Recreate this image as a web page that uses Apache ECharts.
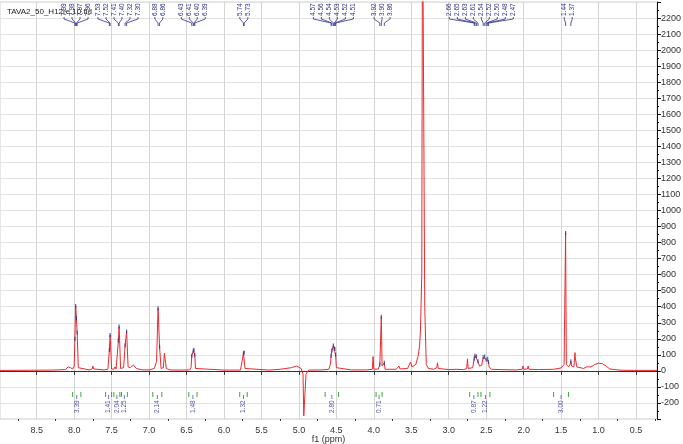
<!DOCTYPE html>
<html lang="en">
<head>
    <meta charset="UTF-8">
    <title>TAVA2 1H NMR</title>
    <script src="https://cdn.jsdelivr.net/npm/echarts@6.0.0/dist/echarts.min.js"></script>
    <style>
        html, body { margin: 0; padding: 0; background: #fff; }
    </style>
</head>
<body>
    <div id="main" style="width:683px;height:444px;"></div>
    <script>
        // picked peaks, grouped as in the label fans at the top
        var peakPpm = [
            [7.99, 7.98, 7.97, 7.96],
            [7.53, 7.52, 7.41, 7.40, 7.32, 7.30],
            [6.88, 6.86],
            [6.43, 6.41, 6.40, 6.39],
            [5.74, 5.73],
            [4.57, 4.56, 4.54, 4.53, 4.52, 4.51],
            [3.92, 3.90, 3.86],
            [2.66, 2.65, 2.63, 2.61, 2.54, 2.52, 2.50, 2.48, 2.47],
            [1.44, 1.37]
        ];
        var peakHeight = [
            [200, 405, 330, 240],
            [130, 224, 190, 276, 160, 245],
            [390, 150],
            [95, 125, 130, 100],
            [110, 114],
            [95, 127, 158, 140, 137, 100],
            [40, 338, 50],
            [75, 95, 90, 60, 85, 90, 70, 75, 55],
            [860, 60]
        ];
        // rest of the trace (baseline, unlabelled peaks, solvent)
        var tracePts = [
            [8.99, 3], [8.6, 4], [8.3, 5], [8.12, 8], [8.08, 25], [8.065, 31], [8.05, 20], [8.02, 12], [8.0, 30],
            [7.945, 20], [7.93, 8], [7.8, 6], [7.76, 12], [7.75, 30], [7.74, 12], [7.72, 7], [7.6, 6], [7.55, 10],
            [7.50, 12], [7.47, 10], [7.455, 25], [7.44, 12], [7.42, 20], [7.38, 15], [7.34, 20],
            [7.28, 25], [7.25, 20], [7.21, 37], [7.17, 15], [7.1, 7], [7.0, 6], [6.93, 15], [6.9, 60],
            [6.84, 15], [6.81, 20], [6.795, 110], [6.787, 114], [6.78, 100], [6.77, 15], [6.72, 6], [6.6, 5],
            [6.46, 6], [6.44, 20], [6.38, 15], [6.36, 6], [6.0, 5], [5.78, 5], [5.76, 15], [5.72, 15], [5.70, 5],
            [5.4, 5], [5.25, 10], [5.1, 20], [5.03, 30], [4.97, 15], [4.945, -20], [4.935, -280], [4.915, -280],
            [4.905, -20], [4.87, 5], [4.7, 6], [4.6, 10], [4.58, 40], [4.50, 20], [4.48, 8], [4.3, 6], [4.1, 6],
            [4.02, 10], [4.01, 89], [4.00, 10], [3.94, 12], [3.93, 25], [3.89, 30], [3.87, 20], [3.85, 10],
            [3.7, 10], [3.665, 30], [3.65, 12], [3.55, 15], [3.51, 55], [3.49, 25], [3.44, 40], [3.41, 90],
            [3.39, 150], [3.377, 255], [3.36, 600], [3.35, 3000], [3.335, 3000], [3.32, 400], [3.30, 40],
            [3.27, 15], [3.2, 10], [3.16, 20], [3.15, 50], [3.14, 15], [3.0, 8], [2.9, 10], [2.8, 8],
            [2.76, 15], [2.75, 75], [2.74, 15], [2.68, 20], [2.59, 30], [2.56, 35], [2.46, 25], [2.43, 10],
            [2.3, 8], [2.1, 6], [2.02, 10], [2.01, 30], [2.0, 10], [1.95, 12], [1.94, 30], [1.93, 10],
            [1.8, 8], [1.6, 10], [1.5, 18], [1.46, 40], [1.43, 40], [1.40, 25], [1.38, 40], [1.36, 30],
            [1.33, 25], [1.32, 80], [1.315, 114], [1.31, 80], [1.29, 25], [1.2, 15], [1.16, 25], [1.14, 15],
            [1.10, 25], [1.05, 40], [1.0, 48], [0.95, 45], [0.9, 30], [0.85, 12], [0.7, 4], [0.5, 3], [0.22, 3]
        ];
        // integrals: from ppm, to ppm, value
        var integrals = [
            [8.02, 7.91, 3.39], [7.58, 7.50, 1.41], [7.47, 7.39, 2.04], [7.37, 7.29, 1.25],
            [6.95, 6.83, 2.14], [6.47, 6.36, 1.48], [5.79, 5.69, 1.32], [4.65, 4.47, 2.80],
            [3.97, 3.89, 0.71], [2.72, 2.61, 0.87], [2.57, 2.45, 1.22], [1.60, 1.40, 3.00]
        ];
        var xMajor = [8.5, 8.0, 7.5, 7.0, 6.5, 6.0, 5.5, 5.0, 4.5, 4.0, 3.5, 3.0, 2.5, 2.0, 1.5, 1.0, 0.5];
        var xMinor = [8.75, 8.25, 7.75, 7.25, 6.75, 6.25, 5.75, 5.25, 4.75, 4.25, 3.75, 3.25, 2.75, 2.25, 1.75, 1.25, 0.75, 0.25];

        var peakPts = [];
        var labelItems = [];
        peakPpm.forEach(function (g, gi) {
            var mid = (g[0] + g[g.length - 1]) / 2;
            g.forEach(function (p, k) {
                peakPts.push([p, peakHeight[gi][k]]);
                labelItems.push([p, mid, k, g.length]);
            });
        });
        var spectrum = tracePts.concat(peakPts).sort(function (a, b) { return b[0] - a[0]; });

        var labelBlue = '#2f2f8f';
        var font = 'Liberation Sans';

        var myChart = echarts.init(document.getElementById('main'));
        var option = {
            animation: false,
            backgroundColor: '#ffffff',
            title: {
                text: 'TAVA2_50_H12re.10.fid',
                left: 2, top: 3,
                textStyle: { fontSize: 8, fontWeight: 'normal', color: '#222', fontFamily: font }
            },
            grid: { left: 0, right: 26, top: 2, bottom: 25, outerBoundsMode: 'none', containLabel: false,
                show: true, borderColor: '#d0d0d0', borderWidth: 1 },
            xAxis: [{
                type: 'value', inverse: true, min: 0.22, max: 8.99,
                name: 'f1 (ppm)', nameLocation: 'middle', nameGap: 16, nameMoveOverlap: false,
                nameTextStyle: { fontSize: 9, color: '#333', fontFamily: font },
                axisLine: { lineStyle: { color: '#333' } },
                axisTick: { customValues: xMajor, length: 4, lineStyle: { color: '#333' } },
                axisLabel: { customValues: xMajor, fontSize: 9, color: '#333', margin: 7, fontFamily: font,
                    formatter: function (v) { return v.toFixed(1); } },
                splitLine: { show: true, lineStyle: { color: '#d4d4d4' } }
            }, {
                type: 'value', inverse: true, min: 0.22, max: 8.99, position: 'bottom',
                axisLine: { show: false },
                axisTick: { customValues: xMinor, length: 2, lineStyle: { color: '#333' } },
                axisLabel: { show: false },
                splitLine: { show: false }
            }],
            yAxis: {
                type: 'value', position: 'right', min: -300, max: 2300, interval: 100,
                axisLine: { show: true, lineStyle: { color: '#111' } },
                axisTick: { show: true, length: 4, lineStyle: { color: '#111' } },
                minorTick: { show: true, splitNumber: 2, length: 2, lineStyle: { color: '#111' } },
                axisLabel: { fontSize: 9, color: '#333', margin: 4, fontFamily: font, showMinLabel: false, showMaxLabel: false,
                    formatter: function (v) { return String(v); } },
                splitLine: { show: true, lineStyle: { color: '#e2e2e2' } }
            },
            series: [{
                type: 'line',
                data: spectrum,
                showSymbol: false,
                lineStyle: { color: '#ea2a2e', width: 1 },
                z: 3
            }, {
                type: 'scatter',
                data: peakPts,
                symbol: 'rect',
                symbolSize: [1.2, 4],
                itemStyle: { color: labelBlue },
                z: 4
            }, {
                type: 'custom',
                data: labelItems,
                clip: false,
                z: 5,
                renderItem: function (params, api) {
                    var p = api.value(0), mid = api.value(1), k = api.value(2), n = api.value(3);
                    var top = params.coordSys.y;
                    var cx = api.coord([mid, 0])[0];
                    var lx = cx + (k - (n - 1) / 2) * 8;
                    var px = api.coord([p, 0])[0];
                    return {
                        type: 'group',
                        children: [{
                            type: 'text', x: lx, y: top + 14, rotation: Math.PI / 2,
                            style: { text: p.toFixed(2), fill: labelBlue, fontSize: 6.5, fontFamily: font,
                                align: 'left', verticalAlign: 'middle' }
                        }, {
                            type: 'polyline',
                            shape: { points: [[lx, top + 15], [lx, top + 17], [px, top + 21], [px, top + 24]] },
                            style: { stroke: labelBlue, lineWidth: 0.8, fill: null }
                        }]
                    };
                }
            }, {
                type: 'custom',
                data: integrals,
                clip: false,
                z: 5,
                renderItem: function (params, api) {
                    var x1 = api.coord([api.value(0), 0])[0];
                    var x2 = api.coord([api.value(1), 0])[0];
                    var cx = (x1 + x2) / 2;
                    var bottom = params.coordSys.y + params.coordSys.height;
                    var green = '#3aa63a';
                    return {
                        type: 'group',
                        children: [{
                            type: 'line', shape: { x1: x1, y1: bottom - 27, x2: x1, y2: bottom - 22 },
                            style: { stroke: green, lineWidth: 1 }
                        }, {
                            type: 'line', shape: { x1: x2, y1: bottom - 27, x2: x2, y2: bottom - 22 },
                            style: { stroke: green, lineWidth: 1 }
                        }, {
                            type: 'line', shape: { x1: cx, y1: bottom - 24, x2: cx, y2: bottom - 20 },
                            style: { stroke: '#5050a8', lineWidth: 0.8 }
                        }, {
                            type: 'text', x: cx, y: bottom - 6, rotation: Math.PI / 2,
                            style: { text: api.value(2).toFixed(2), fill: '#5050a8', fontSize: 6.5, fontFamily: font,
                                align: 'left', verticalAlign: 'middle' }
                        }]
                    };
                }
            }]
        };
        myChart.setOption(option);
    </script>
</body>
</html>
